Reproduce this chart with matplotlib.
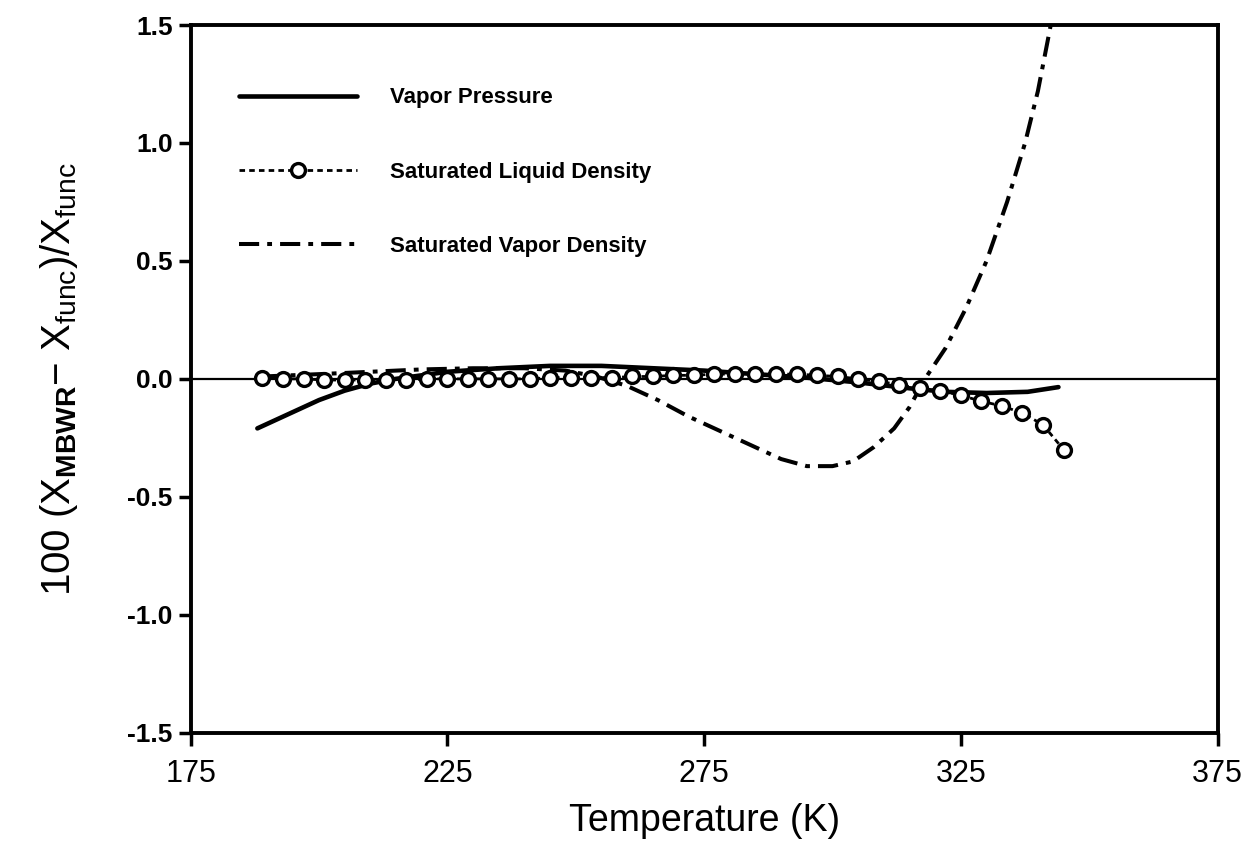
"""Deviation plot: MBWR equation vs. fitted functions for saturation properties"""
import matplotlib
matplotlib.use('Agg')
import matplotlib.pyplot as plt

# Vapor pressure deviation (solid line)
vp_temp = [188, 195, 200, 205, 210, 215, 225, 235, 245, 255, 265, 275,
           285, 295, 305, 315, 322, 330, 338, 344]
vp_dev = [-0.21, -0.14, -0.09, -0.05, -0.02, 0.0, 0.03, 0.045, 0.055, 0.055,
          0.045, 0.035, 0.02, 0.005, -0.015, -0.04, -0.055, -0.06, -0.055, -0.035]

# Saturated liquid density deviation (dotted line with circles)
liq_temp = [189, 193, 197, 201, 205, 209, 213, 217, 221, 225, 229, 233, 237, 241,
            245, 249, 253, 257, 261, 265, 269, 273, 277, 281, 285, 289, 293, 297,
            301, 305, 309, 313, 317, 321, 325, 329, 333, 337, 341, 345]
liq_dev = [0.005, 0.0, 0.0, -0.005, -0.005, -0.005, -0.005, -0.005, 0.0, 0.0,
           0.0, 0.0, 0.0, 0.0, 0.005, 0.005, 0.005, 0.005, 0.01, 0.01,
           0.015, 0.015, 0.02, 0.02, 0.02, 0.02, 0.02, 0.015, 0.01, 0.0,
           -0.01, -0.025, -0.04, -0.05, -0.07, -0.095, -0.115, -0.145, -0.195, -0.30]

# Saturated vapor density deviation (dash-dot line)
vap_temp = [189, 200, 210, 220, 230, 240, 248, 254, 260, 266, 272, 278, 284, 290,
            295, 300, 304, 308, 312, 315, 318, 322, 326, 330, 334, 337.5, 340, 342.5]
vap_dev = [0.01, 0.02, 0.03, 0.04, 0.045, 0.045, 0.035, 0.01, -0.03, -0.09, -0.16,
           -0.22, -0.28, -0.34, -0.37, -0.37, -0.35, -0.29, -0.21, -0.12, 0.0,
           0.13, 0.3, 0.5, 0.75, 1.0, 1.22, 1.5]

x_ticks = [175, 225, 275, 325, 375]
y_ticks = [-1.5, -1.0, -0.5, 0.0, 0.5, 1.0, 1.5]

plt.rcParams['font.family'] = ['Liberation Sans', 'DejaVu Sans']
plt.rcParams['mathtext.fontset'] = 'custom'
plt.rcParams['mathtext.rm'] = 'Liberation Sans'
plt.rcParams['mathtext.bf'] = 'Liberation Sans:bold'

fig = plt.figure(figsize=(12.54, 8.63), dpi=100)
ax = fig.add_axes([0.152, 0.151, 0.819, 0.820])

ax.axhline(0, color='black', lw=1.6, zorder=1)

ax.plot(vp_temp, vp_dev, color='black', lw=3.3, solid_capstyle='round',
        label='Vapor Pressure', zorder=3)
ax.plot(liq_temp, liq_dev, color='black', lw=2, ls=(0, (2, 1.5)), marker='o',
        markersize=10, markerfacecolor='white', markeredgewidth=2.4,
        label='Saturated Liquid Density', zorder=4)
ax.plot(vap_temp, vap_dev, color='black', lw=2.9, ls=(0, (5, 2, 1.2, 2)),
        label='Saturated Vapor Density', zorder=2)

ax.set_xlim(175, 375)
ax.set_ylim(-1.5, 1.5)
ax.set_xticks(x_ticks)
ax.set_yticks(y_ticks)
ax.set_xticklabels([str(t) for t in x_ticks], fontsize=22)
ax.set_yticklabels([f'{v:.1f}' for v in y_ticks], fontsize=19, fontweight='bold')
ax.tick_params(direction='out', length=9, width=2.5, pad=4)
ax.tick_params(axis='x', pad=10)

for spine in ax.spines.values():
    spine.set_linewidth(2.8)

ax.set_xlabel('Temperature (K)', fontsize=27, labelpad=10)
ax.set_ylabel(r'100 (X$_{\mathbf{MBWR}}$$-$ X$_{\mathrm{func}}$)/X$_{\mathrm{func}}$',
              fontsize=29, labelpad=34)

ax.legend(loc='upper left', bbox_to_anchor=(0.028, 0.94), frameon=False,
          handlelength=5.3, handletextpad=1.5, labelspacing=2.4,
          prop={'weight': 'bold', 'size': 16})

fig.savefig('out.png', dpi=100)
